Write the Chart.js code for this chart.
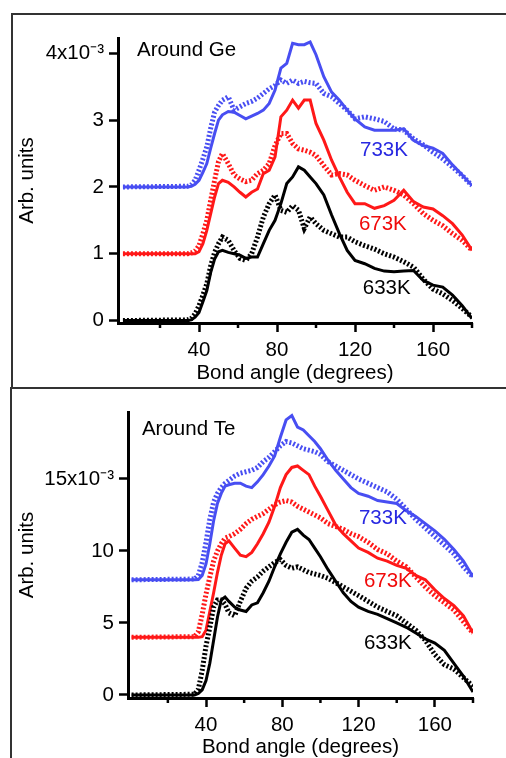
<!DOCTYPE html>
<html>
<head>
<meta charset="utf-8">
<script src="https://cdn.jsdelivr.net/npm/chart.js"></script>
<style>
    html, body { margin: 0; padding: 0; background: #fff; overflow: hidden; }
    #page { position: relative; width: 506px; height: 758px; overflow: hidden; }
    .frame { position: absolute; border: 2px solid #333; box-sizing: border-box; }
    #frameTop { left: 11px; top: 13px; width: 600px; height: 376px; }
    #frameBottom { left: 10px; top: 387px; width: 600px; height: 400px; border-top: none; }
    canvas { position: absolute; left: 0; }
    #chartGe { top: 0; }
    #chartTe { top: 388px; }
</style>
</head>
<body>
<div id="page">
    <div class="frame" id="frameTop"></div>
    <div class="frame" id="frameBottom"></div>
    <canvas id="chartGe" width="506" height="386"></canvas>
    <canvas id="chartTe" width="506" height="372"></canvas>
</div>
<script>
// bond angle (degrees), shared by every curve
var angles = [1, 34, 36, 38, 40, 42, 44, 46, 48, 50, 52, 55, 58, 61, 64, 67, 70, 73, 76, 79, 82, 85, 88, 91, 94, 97, 100,
    104, 108, 112, 116, 120, 125, 130, 135, 140, 145, 150, 155, 160, 165, 170, 175, 180];

// around Ge (x10^-3, curves already offset by 0 / 1 / 2)
var ge633 = [0, 0, 0.01, 0.05, 0.12, 0.28, 0.45, 0.72, 0.92, 1.03, 1.05,
    1.02, 1.0, 0.98, 0.93, 0.95, 0.95, 1.15, 1.35, 1.5, 1.75, 2.05, 2.15, 2.3, 2.25, 2.15, 2.05,
    1.88, 1.58, 1.3, 1.05, 0.9,
    0.85, 0.78, 0.74, 0.73, 0.74, 0.75, 0.6, 0.53, 0.5, 0.38, 0.22, 0.03];
var ge633d = [0, 0.01, 0.03, 0.1, 0.22, 0.38, 0.55, 0.82, 1.02, 1.15, 1.25,
    1.2, 1.05, 0.93, 0.9, 1.0, 1.25, 1.55, 1.75, 1.88, 1.65, 1.62, 1.72, 1.65, 1.38, 1.55, 1.45,
    1.35, 1.3, 1.25, 1.25, 1.18,
    1.12, 1.07, 1.0, 0.95, 0.88, 0.8, 0.62, 0.47, 0.4, 0.3, 0.18, 0.05];
var ge673 = [1, 1, 1.0, 1.0, 1.03, 1.15, 1.35, 1.6, 1.85, 2.05, 2.1,
    2.07, 2.0, 1.92, 1.85, 1.92, 1.97, 2.2, 2.25, 2.45, 3.05, 3.15, 3.3, 3.18, 3.3, 3.3, 2.95,
    2.7, 2.4, 2.15, 1.92, 1.75,
    1.75, 1.68, 1.72, 1.8, 1.95, 1.78, 1.7, 1.67, 1.57, 1.45, 1.28, 1.05];
var ge673d = [1, 1.0, 1.01, 1.04, 1.12, 1.3, 1.5, 1.8, 2.1, 2.38, 2.5,
    2.35, 2.18, 2.12, 2.08, 2.1, 2.2, 2.25, 2.35, 2.62, 2.8, 2.8, 2.65, 2.57, 2.55, 2.52, 2.47,
    2.32, 2.18, 2.2, 2.18, 2.1,
    2.02, 1.95, 2.0, 1.95, 1.88, 1.75, 1.6, 1.5, 1.42, 1.3, 1.2, 1.05];
var ge733 = [2, 2, 2.01, 2.04, 2.1, 2.22, 2.35, 2.58, 2.8, 3.0, 3.08,
    3.13, 3.12, 3.07, 3.02, 3.06, 3.1, 3.15, 3.25, 3.45, 3.78, 3.85, 4.15, 4.13, 4.13, 4.17, 3.98,
    3.65, 3.42, 3.3, 3.15, 3.02,
    2.9, 2.85, 2.85, 2.85, 2.87, 2.7, 2.62, 2.58, 2.5, 2.33, 2.18, 2.02];
var ge733d = [2, 2.01, 2.03, 2.1, 2.25, 2.42, 2.6, 2.88, 3.12, 3.22, 3.3,
    3.35, 3.15, 3.2, 3.25, 3.28, 3.33, 3.4, 3.47, 3.52, 3.6, 3.55, 3.6, 3.55, 3.58, 3.56, 3.55,
    3.4, 3.35, 3.25, 3.15, 3.02,
    3.05, 3.02, 2.98, 2.87, 2.85, 2.72, 2.63, 2.52, 2.42, 2.3, 2.17, 2.02];

// around Te (x10^-3, curves already offset by 0 / 4 / 8)
var te633 = [0, 0, 0.1, 0.35, 1.0, 2.2, 3.8, 5.4, 6.6, 6.8, 6.5,
    6.1, 5.9, 5.8, 6.25, 6.4, 7.1, 7.9, 8.9, 9.8, 10.6, 11.3, 11.5, 11.1, 10.8, 10.2, 9.6,
    8.7, 7.9, 7.1, 6.5, 6.1,
    5.8, 5.6, 5.3, 5.0, 4.7, 4.3, 3.9, 3.6, 3.1, 2.2, 1.3, 0.2];
var te633d = [0, 0.05, 0.4, 1.7, 3.4, 4.7, 6.1, 6.6, 6.6, 6.3, 5.7,
    5.5, 6.5, 7.4, 7.9, 8.2, 8.6, 8.9, 9.2, 9.4, 9.0, 8.8, 8.9, 8.7, 8.5, 8.4, 8.3,
    8.1, 7.8, 7.5, 7.2, 6.9,
    6.5, 6.1, 5.8, 5.5, 5.0, 4.5, 3.8, 2.8, 2.1, 1.8, 1.2, 0.6];
var te673 = [4, 4, 4.0, 4.05, 4.5, 5.8, 7.1, 8.5, 9.7, 10.5, 10.7,
    10.2, 9.7, 9.6, 9.9, 10.5, 11.2, 12.0, 13.1, 14.4, 15.3, 15.8, 15.9, 15.6, 15.3, 14.5, 13.8,
    12.8, 11.8, 11.2, 10.7, 10.2,
    9.9, 9.5, 9.3, 9.0, 8.8, 8.3, 8.0, 7.3, 6.7, 6.2, 5.5, 4.3];
var te673d = [4, 4.05, 4.4, 5.6, 7.0, 8.2, 9.3, 10.0, 10.5, 10.9, 11.0,
    11.2, 11.5, 11.9, 12.2, 12.4, 12.6, 12.9, 13.2, 13.4, 13.5, 13.4, 13.1, 12.9, 12.7, 12.5, 12.3,
    11.9, 11.7, 11.5, 11.2, 11.0,
    10.6, 10.1, 9.8, 9.3, 8.9, 8.2, 7.5, 6.9, 6.4, 5.9, 5.1, 4.3];
var te733 = [8, 8, 8.02, 8.3, 9.1, 10.5, 12.1, 13.3, 14.0, 14.5, 14.6,
    14.7, 14.7, 14.5, 14.4, 14.8, 15.3, 15.9, 16.6, 17.9, 19.1, 19.4, 18.6, 18.4, 18.0, 17.6, 17.1,
    16.3, 15.6, 15.0, 14.4, 14.0,
    13.8, 13.5, 13.4, 13.3, 12.8, 12.4, 11.9, 11.4, 10.8, 10.1, 9.3, 8.2];
var te733d = [8, 8.05, 8.3, 9.2, 10.6, 12.2, 13.4, 14.0, 14.4, 14.7, 14.9,
    15.2, 15.4, 15.5, 15.6, 15.8, 16.2, 16.5, 16.9, 17.3, 17.6, 17.5, 17.3, 17.1, 17.0, 16.9, 16.7,
    16.2, 15.9, 15.6, 15.3, 15.0,
    14.7, 14.4, 14.1, 13.6, 12.9, 12.2, 11.6, 11.0, 10.4, 9.8, 8.9, 8.2];

// tick values and labels
var xMajor = [40, 80, 120, 160];
var xMajorLabels = ['40', '80', '120', '160'];
var xMinor = [20, 60, 100, 140, 180];
var geYTicks = [0, 1, 2, 3, 4];
var geYLabels = ['0', '1', '2', '3', '4x10\u207B\u00B3'];
var teYTicks = [0, 5, 10, 15];
var teYLabels = ['0', '5', '10', '15x10\u207B\u00B3'];

var BLACK = '#000000';
var RED = 'rgb(255,24,24)';
var BLUE = 'rgb(72,78,242)';
var FONT = "'Liberation Sans', Arial, Helvetica, sans-serif";
var FSIZE = 20.5;

function points(values){
    return angles.map(function (a, i){
        return {x: a, y: values[i]};
    });
}

function serie(label, values, color, dotted){
    return {
        label: label,
        data: points(values),
        borderColor: color,
        backgroundColor: color,
        borderWidth: dotted ? 5 : 3,
        borderDash: dotted ? [2, 2] : [],
        pointRadius: 0,
        tension: 0,
        fill: false
    };
}

// temperature labels, panel title and the short minor ticks of the x axis
function notesPlugin(notes){
    return {
        id: 'notes',
        afterDraw: function (chart){
            var ctx = chart.ctx;
            var xs = chart.scales.x;
            var ys = chart.scales.y;
            ctx.save();
            ctx.font = FSIZE + 'px ' + FONT;
            ctx.textAlign = 'left';
            ctx.textBaseline = 'alphabetic';
            notes.forEach(function (n){
                ctx.fillStyle = n.color;
                ctx.fillText(n.text, xs.getPixelForValue(n.x), ys.getPixelForValue(n.y));
            });
            ctx.strokeStyle = BLACK;
            ctx.lineWidth = 2.5;
            xMinor.forEach(function (v){
                var px = xs.getPixelForValue(v);
                ctx.beginPath();
                ctx.moveTo(px, xs.top);
                ctx.lineTo(px, xs.top + 5);
                ctx.stroke();
            });
            ctx.restore();
        }
    };
}

function drawPanel(canvasId, datasets, cfg){
    var font = {family: FONT, size: FSIZE};
    return new Chart(document.getElementById(canvasId), {
        type: 'line',
        data: {datasets: datasets},
        options: {
            responsive: false,
            animation: false,
            devicePixelRatio: 1,
            layout: {padding: {top: cfg.top, right: cfg.right, left: 0, bottom: 0}},
            plugins: {legend: {display: false}, tooltip: {enabled: false}},
            scales: {
                x: {
                    type: 'linear',
                    min: cfg.xMin,
                    max: 180,
                    afterBuildTicks: function (s){
                        s.ticks = xMajor.map(function (v){ return {value: v}; });
                    },
                    afterFit: function (s){ s.height = cfg.xHeight; },
                    grid: {drawOnChartArea: false, drawTicks: true, tickLength: 9, tickWidth: 2.5, tickColor: BLACK},
                    border: {display: true, color: BLACK, width: 3},
                    ticks: {
                        font: font, color: BLACK, padding: 6, maxRotation: 0, autoSkip: false,
                        callback: function (v, i){ return xMajorLabels[i]; }
                    },
                    title: {display: true, text: 'Bond angle (degrees)', font: font, color: BLACK, padding: {top: 0, bottom: 0}}
                },
                y: {
                    type: 'linear',
                    min: cfg.yMin,
                    max: cfg.yMax,
                    afterBuildTicks: function (s){
                        s.ticks = cfg.yTicks.map(function (v){ return {value: v}; });
                    },
                    afterFit: function (s){ s.width = cfg.yWidth; },
                    grid: {drawOnChartArea: false, drawTicks: true, tickLength: 9, tickWidth: 2.5, tickColor: BLACK},
                    border: {display: true, color: BLACK, width: 3},
                    ticks: {
                        font: font, color: BLACK, padding: 5, autoSkip: false,
                        callback: function (v, i){ return cfg.yLabels[i]; }
                    },
                    title: {display: true, text: 'Arb. units', font: font, color: BLACK, padding: {top: 15, bottom: 0}}
                }
            }
        },
        plugins: [notesPlugin(cfg.notes)]
    });
}

drawPanel('chartGe', [
    serie('633K', ge633, BLACK, false),
    serie('633K dotted', ge633d, BLACK, true),
    serie('673K', ge673, RED, false),
    serie('673K dotted', ge673d, RED, true),
    serie('733K', ge733, BLUE, false),
    serie('733K dotted', ge733d, BLUE, true)
], {
    top: 38, right: 34, yWidth: 118, xHeight: 63,
    xMin: -1.54, yMin: -0.037, yMax: 4.23,
    yTicks: geYTicks, yLabels: geYLabels,
    notes: [
        {text: 'Around Ge', x: 8.2, y: 3.96, color: BLACK},
        {text: '733K', x: 122.6, y: 2.46, color: 'rgb(40,40,225)'},
        {text: '673K', x: 122, y: 1.36, color: 'rgb(240,10,10)'},
        {text: '633K', x: 124, y: 0.4, color: BLACK}
    ]
});

drawPanel('chartTe', [
    serie('633K', te633, BLACK, false),
    serie('633K dotted', te633d, BLACK, true),
    serie('673K', te673, RED, false),
    serie('673K dotted', te673d, RED, true),
    serie('733K', te733, BLUE, false),
    serie('733K dotted', te733d, BLUE, true)
], {
    top: 24, right: 33, yWidth: 128, xHeight: 62,
    xMin: -0.9, yMin: -0.21, yMax: 19.65,
    yTicks: teYTicks, yLabels: teYLabels,
    notes: [
        {text: 'Around Te', x: 6.4, y: 18.05, color: BLACK},
        {text: '733K', x: 120.2, y: 11.9, color: 'rgb(40,40,225)'},
        {text: '673K', x: 122.8, y: 7.5, color: 'rgb(240,10,10)'},
        {text: '633K', x: 122.8, y: 3.2, color: BLACK}
    ]
});
</script>
</body>
</html>
